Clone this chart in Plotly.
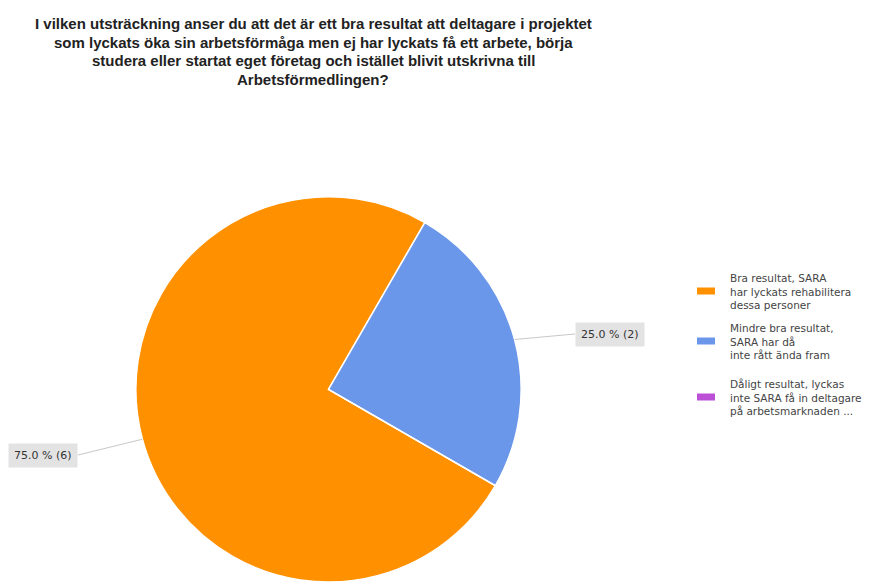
import math
import plotly.graph_objects as go

# Survey answers and their counts
labels = [
    "Bra resultat, SARA<br>har lyckats rehabilitera<br>dessa personer",
    "Mindre bra resultat,<br>SARA har då<br>inte rått ända fram",
    "Dåligt resultat, lyckas<br>inte SARA få in deltagare<br>på arbetsmarknaden ...",
]
counts = [6, 2, 0]
colors = ["#ff9100", "#6a97ea", "#bb50d6"]

title_lines = [
    "I vilken utsträckning anser du att det är ett bra resultat att deltagare i projektet",
    "som lyckats öka sin arbetsförmåga men ej har lyckats få ett arbete, börja",
    "studera eller startat eget företag och istället blivit utskrivna till",
    "Arbetsförmedlingen?",
]

W, H = 876, 582
rotation = 120  # first slice starts at this clockwise angle from 12 o'clock

# pie placement (paper fractions)
dom_x = [0.10, 0.65]
dom_y = [0.0, 0.662]

fig = go.Figure(
    go.Pie(
        labels=[l.replace("<br>", " ") for l in labels],
        values=counts,
        sort=False,
        direction="clockwise",
        rotation=rotation,
        marker=dict(colors=colors, line=dict(color="white", width=1.5)),
        textinfo="none",
        hoverinfo="label+percent+value",
        domain=dict(x=dom_x, y=dom_y),
        showlegend=False,
    )
)

# geometry of the drawn pie in pixels, used to place the outside labels
cx = (dom_x[0] + dom_x[1]) / 2 * W
cy = (1 - (dom_y[0] + dom_y[1]) / 2) * H
r = min((dom_x[1] - dom_x[0]) * W, (dom_y[1] - dom_y[0]) * H) / 2

total = sum(counts)
label_pos = [(78, 455, "right"), (575, 334, "left")]
shapes = []
annotations = []
start = rotation
for i, v in enumerate(counts):
    sweep = 360 * v / total
    if v > 0 and i < len(label_pos):
        mid = math.radians(start + sweep / 2)
        ex = cx + r * math.sin(mid)
        ey = cy - r * math.cos(mid)
        lx, ly, anchor = label_pos[i]
        shapes.append(dict(
            type="line", xref="paper", yref="paper",
            x0=ex / W, y0=1 - ey / H, x1=lx / W, y1=1 - ly / H,
            line=dict(color="#c8c8c8", width=1),
        ))
        annotations.append(dict(
            xref="paper", yref="paper", x=lx / W, y=1 - ly / H,
            xanchor=anchor, yanchor="middle", showarrow=False,
            text=f"{100 * v / total:.1f} % ({v})",
            font=dict(family="DejaVu Sans", size=11, color="#333333"),
            bgcolor="#e3e3e3", borderpad=5,
        ))
    start += sweep

# title, one annotation per line for tight leading
for k, line in enumerate(title_lines):
    annotations.append(dict(
        xref="paper", yref="paper", x=313 / W, y=1 - (24 + 18.5 * k) / H,
        xanchor="center", yanchor="middle", showarrow=False,
        text=f"<b>{line}</b>",
        font=dict(family="Liberation Sans, Arial", size=15, color="#222222"),
    ))

# legend: wide colour swatch next to a three-line label
leg_centres = [291, 341, 397]
for lab, col, yc in zip(labels, colors, leg_centres):
    shapes.append(dict(
        type="rect", xref="paper", yref="paper",
        x0=697 / W, x1=715 / W, y0=1 - (yc + 3.5) / H, y1=1 - (yc - 3.5) / H,
        fillcolor=col, line=dict(width=0),
    ))
    annotations.append(dict(
        xref="paper", yref="paper", x=728 / W, y=1 - yc / H,
        xanchor="left", yanchor="middle", align="left", showarrow=False,
        text=lab,
        font=dict(family="DejaVu Sans", size=10.5, color="#444444"),
    ))

fig.update_layout(
    width=W, height=H,
    margin=dict(l=0, r=0, t=0, b=0),
    paper_bgcolor="white", plot_bgcolor="white",
    shapes=shapes,
    annotations=annotations,
)

fig.write_html("out.html")
